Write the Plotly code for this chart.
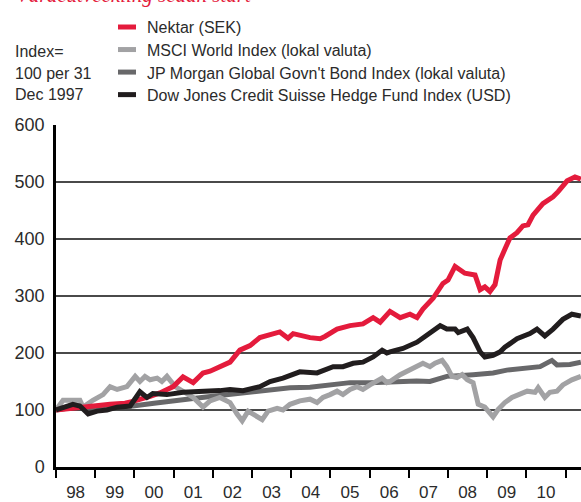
import plotly.graph_objects as go

# ---------------- data (x in decimal years, values = index, 100 at 31 Dec 1997) ----------------
nektar_t = [1998.00, 1998.36, 1998.69, 1999.00, 1999.38, 1999.76, 1999.96, 2000.40, 2000.65, 2000.99,
            2001.24, 2001.50, 2001.75, 2001.93, 2002.18, 2002.44, 2002.69, 2002.95, 2003.20, 2003.46,
            2003.71, 2003.92, 2004.05, 2004.48, 2004.74, 2004.86, 2005.17, 2005.50, 2005.83, 2006.09,
            2006.27, 2006.52, 2006.78, 2007.03, 2007.21, 2007.36, 2007.62, 2007.87, 2008.00, 2008.18,
            2008.43, 2008.69, 2008.82, 2008.94, 2009.07, 2009.20, 2009.33, 2009.45, 2009.58, 2009.76,
            2009.91, 2010.04, 2010.17, 2010.42, 2010.68, 2010.81, 2011.04, 2011.24, 2011.39]
nektar_v = [100, 103, 105, 108, 110, 112, 115, 124, 130, 141,
            158, 148, 165, 168, 177, 184, 205, 213, 227, 232,
            237, 226, 234, 227, 225, 229, 242, 248, 251, 262,
            254, 273, 262, 268, 262, 277, 296, 322, 328, 352,
            340, 337, 311, 316, 308, 320, 363, 382, 402, 411,
            423, 425, 442, 462, 474, 483, 502, 509, 505]

msci_t = [1998.00, 1998.18, 1998.61, 1998.69, 1998.94, 1999.20, 1999.38, 1999.56, 1999.81, 2000.02,
          2000.14, 2000.27, 2000.40, 2000.58, 2000.70, 2000.83, 2001.04, 2001.24, 2001.50, 2001.75,
          2001.93, 2002.18, 2002.44, 2002.62, 2002.75, 2002.90, 2003.08, 2003.26, 2003.41, 2003.64,
          2003.79, 2003.97, 2004.22, 2004.48, 2004.66, 2004.81, 2004.99, 2005.17, 2005.32, 2005.50,
          2005.68, 2005.83, 2006.01, 2006.19, 2006.32, 2006.44, 2006.52, 2006.78, 2007.03, 2007.36,
          2007.54, 2007.67, 2007.85, 2007.97, 2008.10, 2008.23, 2008.36, 2008.49, 2008.64, 2008.77,
          2008.94, 2009.07, 2009.15, 2009.28, 2009.45, 2009.63, 2009.84, 2010.02, 2010.22, 2010.30,
          2010.47, 2010.60, 2010.78, 2010.93, 2011.16, 2011.39]
msci_v = [100, 117, 117, 105, 117, 127, 141, 136, 141, 159,
          150, 159, 153, 156, 150, 159, 141, 133, 122, 105,
          116, 122, 113, 93, 81, 98, 90, 83, 98, 103,
          100, 110, 116, 119, 113, 122, 127, 133, 127, 136,
          141, 136, 144, 150, 156, 148, 150, 162, 170, 182,
          176, 182, 187, 176, 159, 157, 162, 153, 148, 110,
          105, 96, 88, 101, 113, 122, 127, 133, 131, 139,
          122, 131, 133, 144, 153, 159]

jpm_t = [1998.00, 1998.36, 1998.94, 1999.50, 1999.96, 2000.50, 2000.99, 2001.50, 2002.00, 2002.44,
         2002.95, 2003.46, 2003.97, 2004.48, 2004.99, 2005.50, 2006.01, 2006.52, 2006.80, 2007.20,
         2007.54, 2007.97, 2008.64, 2009.15, 2009.50, 2009.91, 2010.35, 2010.65, 2010.78, 2011.11,
         2011.39]
jpm_v = [100, 104, 105, 106, 107, 112, 117, 120, 124, 127,
         132, 136, 139, 140, 144, 148, 148, 150, 149, 151,
         150, 159, 162, 165, 170, 173, 176, 187, 179, 180,
         184]

djcs_t = [1998.00, 1998.18, 1998.43, 1998.61, 1998.82, 1999.05, 1999.30, 1999.56, 1999.89, 2000.14,
          2000.32, 2000.47, 2000.83, 2001.24, 2001.67, 2002.18, 2002.44, 2002.77, 2003.20, 2003.46,
          2003.79, 2004.22, 2004.66, 2005.07, 2005.32, 2005.58, 2005.83, 2006.09, 2006.32, 2006.44,
          2006.52, 2006.85, 2007.21, 2007.54, 2007.80, 2007.97, 2008.18, 2008.26, 2008.49, 2008.64,
          2008.82, 2008.94, 2009.15, 2009.33, 2009.45, 2009.76, 2010.09, 2010.27, 2010.47, 2010.68,
          2010.93, 2011.16, 2011.39]
djcs_v = [100, 105, 110, 107, 93, 98, 100, 105, 107, 132,
          122, 129, 127, 131, 132, 134, 136, 134, 141, 150,
          156, 167, 165, 176, 176, 182, 184, 193, 205, 200,
          202, 208, 219, 234, 248, 242, 242, 236, 242, 227,
          202, 193, 196, 202, 210, 225, 234, 242, 230, 242,
          259, 268, 265]

year_labels = ["98", "99", "00", "01", "02", "03", "04", "05", "06", "07", "08", "09", "10"]
y_ticks = [0, 100, 200, 300, 400, 500, 600]

series_names = ["Nektar (SEK)",
                "MSCI World Index (lokal valuta)",
                "JP Morgan Global Govn't Bond Index (lokal valuta)",
                "Dow Jones Credit Suisse Hedge Fund Index (USD)"]
colors = ["#e41b3c", "#a2a2a4", "#68686a", "#211d1e"]

# ---------------- figure ----------------
W, H = 581, 502
ML, MR, MT, MB = 56, 0, 125, 28
PW, PH = W - ML - MR, H - MT - MB

def px(xp):
    return (xp - ML) / PW

def py(yp):
    return (H - MB - yp) / PH

fig = go.Figure()
draw = [(jpm_t, jpm_v, 2), (msci_t, msci_v, 1), (nektar_t, nektar_v, 0), (djcs_t, djcs_v, 3)]
for t, v, i in draw:
    fig.add_trace(go.Scatter(x=t, y=v, mode="lines", name=series_names[i],
                             line=dict(color=colors[i], width=5), showlegend=False))

font_fam = "Liberation Sans, Arial, sans-serif"
txt_col = "#2b2b2b"

shapes = []
annotations = []
# legend
leg_y = [25, 48, 71, 94]
for i, yy in enumerate(leg_y):
    shapes.append(dict(type="line", xref="paper", yref="paper",
                       x0=px(118), x1=px(136), y0=py(yy), y1=py(yy),
                       line=dict(color=colors[i], width=5)))
    annotations.append(dict(xref="paper", yref="paper", x=px(145), y=py(yy + 1),
                            xanchor="left", yanchor="middle", showarrow=False,
                            text=series_names[i], font=dict(family=font_fam, size=16, color=txt_col)))
for txt, yy in [("Index=", 50), ("100 per 31", 72), ("Dec 1997", 94)]:
    annotations.append(dict(xref="paper", yref="paper", x=px(13), y=py(yy),
                            xanchor="left", yanchor="middle", showarrow=False,
                            text=txt, font=dict(family=font_fam, size=16, color=txt_col)))
# clipped title at very top (only its lowest part is visible in the reference)
annotations.append(dict(xref="paper", yref="paper", x=px(14), y=py(-8),
                        xanchor="left", yanchor="middle", showarrow=False,
                        text="<i>Värdeutveckling sedan start</i>",
                        font=dict(family="Liberation Serif, DejaVu Serif, serif", size=21, color="#e41b3c")))

fig.update_layout(
    width=W, height=H,
    margin=dict(l=ML, r=MR, t=MT, b=MB, pad=0),
    paper_bgcolor="white", plot_bgcolor="white",
    shapes=shapes, annotations=annotations,
    showlegend=False,
)
fig.update_xaxes(
    range=[1998.0, 2011.393],
    tickvals=[1998.5 + k for k in range(len(year_labels))],
    ticktext=year_labels,
    ticks="outside", ticklen=8, tickcolor="rgba(0,0,0,0)",
    tickfont=dict(family=font_fam, size=17, color=txt_col),
    showgrid=False, zeroline=False,
    showline=True, linecolor="black", linewidth=3,
    minor=dict(tick0=1998, dtick=1, ticks="outside", ticklen=8, tickcolor="black",
               tickwidth=1.5, showgrid=False),
)
fig.update_yaxes(
    range=[0, 600],
    tickvals=y_ticks,
    ticks="", ticklabelstandoff=5,
    tickfont=dict(family=font_fam, size=18, color=txt_col),
    showgrid=True, gridcolor="#4a4a4a", gridwidth=1.5,
    zeroline=False,
    showline=True, linecolor="black", linewidth=2.5,
)

fig.write_html("out.html",
               config={"displayModeBar": False},
               post_script="document.body.style.margin='0';document.body.style.overflow='hidden';")
